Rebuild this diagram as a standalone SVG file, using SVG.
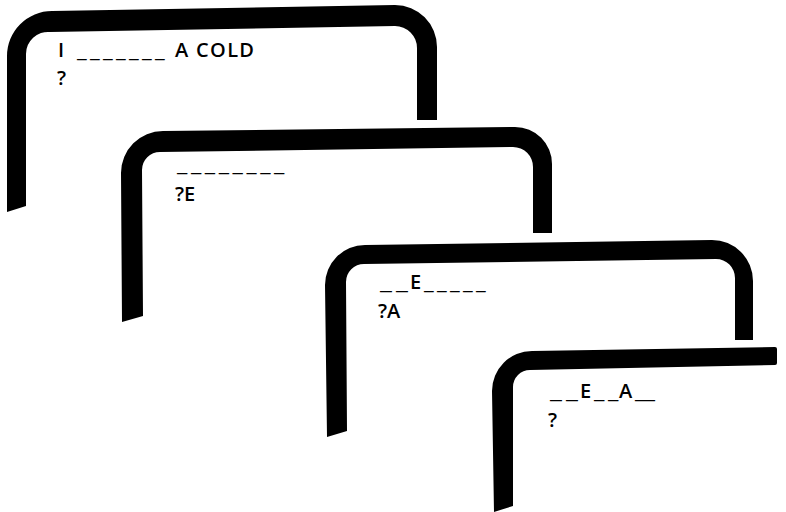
<svg xmlns="http://www.w3.org/2000/svg" width="786" height="512" viewBox="0 0 786 512">
<style>
.frame{fill:#000;stroke:none}
.t{font-family:"Open Sans","Liberation Sans",Arial,sans-serif;font-size:20px;font-weight:600;fill:#000}
.u{letter-spacing:3px;font-weight:400}
</style>
<rect width="786" height="512" fill="#fff"/>
<g id="screen1">
<path class="frame" d="M7 212 L7 56 A45 45 0 0 1 52 11 L395 5 A42 42 0 0 1 437 47 L437 120 L417 120 L417 48 A22 22 0 0 0 395 26 L50 32 A22 22 0 0 0 26 54 L26 206 Z"/>
<text class="t" y="57"><tspan x="58">I</tspan><tspan class="u" x="77" textLength="91" lengthAdjust="spacingAndGlyphs">_______</tspan><tspan x="175" textLength="79" lengthAdjust="spacing">A COLD</tspan></text>
<text class="t" x="57" y="85">?</text>
</g>
<g id="screen2">
<path class="frame" d="M122 322 L121 173 A42 42 0 0 1 163 131 L515 127 A37 37 0 0 1 552 164 L552 233 L533 233 L533 167 A20 20 0 0 0 513 147 L160 152 A18 18 0 0 0 142 170 L143 316 Z"/>
<text class="t" y="171"><tspan class="u" x="177" textLength="111" lengthAdjust="spacingAndGlyphs">________</tspan></text>
<text class="t" x="175" y="201">?E</text>
</g>
<g id="screen3">
<path class="frame" d="M327 437 L325 285 A40 40 0 0 1 365 245 L712 240 A41 41 0 0 1 753 281 L753 340 L735 340 L735 278 A19 19 0 0 0 716 259 L364 264 A18 18 0 0 0 346 282 L347 431 Z"/>
<text class="t" y="289"><tspan class="u" x="380" textLength="32" lengthAdjust="spacingAndGlyphs">__</tspan><tspan x="410">E</tspan><tspan class="u" x="424" textLength="65" lengthAdjust="spacingAndGlyphs">_____</tspan></text>
<text class="t" x="378" y="318">?A</text>
</g>
<g id="screen4">
<path class="frame" d="M494 512 L492 391 A40 40 0 0 1 532 351 L775 347 Q777 347 777 349 L777 363 Q777 365 775 365 L530 370 A17 17 0 0 0 513 387 L513 506 Z"/>
<text class="t" y="398"><tspan class="u" x="550" textLength="32" lengthAdjust="spacingAndGlyphs">__</tspan><tspan x="580">E</tspan><tspan class="u" x="594" textLength="28" lengthAdjust="spacingAndGlyphs">__</tspan><tspan x="619">A</tspan><tspan x="635" textLength="20" lengthAdjust="spacingAndGlyphs">_</tspan></text>
<text class="t" x="548" y="427">?</text>
</g>
<g id="connectors"/>
</svg>
